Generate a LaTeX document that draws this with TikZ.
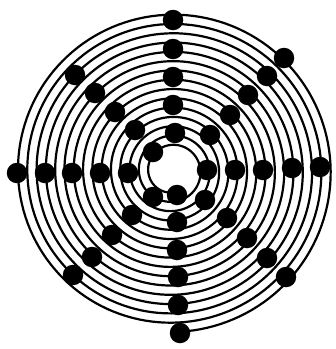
\documentclass[tikz,border=0pt]{standalone}
\begin{document}
\begin{tikzpicture}[x=1pt,y=-1pt,
  groove/.style={line width=2.2pt,black,line join=round},
  dotmark/.style={circle,fill=black,inner sep=0pt,minimum size=20.5pt}]
\useasboundingbox (0,0) rectangle (336,349);
\fill[white] (0,0) rectangle (336,349);
% spiral groove: 15 turns, from the outer end at the bottom inwards
\draw[groove] plot[domain=0:15,samples=2161,variable=\t]
  ({172+(161-9.3*\t)*cos(360*\t-90)},{171-(161-9.3*\t)*sin(360*\t-90)});
% dots
\foreach \n/\px/\py in {
 t1/173/20, t2/173/49, t3/173/77, t4/173/105, t5/175/133,
 ul1/75/75, ul2/95/93, ul3/115/112, ul4/135/130, ul5/153/152,
 ur1/284/58, ur2/267/76, ur3/248/95, ur4/230/115, ur5/210/135,
 l1/17/173, l2/45/173, l3/72/173, l4/100/173, l5/128/173,
 r1/207/170, r2/235/170, r3/263/170, r4/292/168, r5/320/167,
 b1/177/195, b2/177/222, b3/177/250, b4/178/277, b5/178/305, b6/180/333,
 ll1/153/197, ll2/132/215, ll3/112/235, ll4/92/257, ll5/73/275,
 lr1/205/200, lr2/227/218, lr3/247/238, lr4/267/258, lr5/286/277}
  \node[dotmark] (\n) at (\px,\py) {};
\end{tikzpicture}
\end{document}
